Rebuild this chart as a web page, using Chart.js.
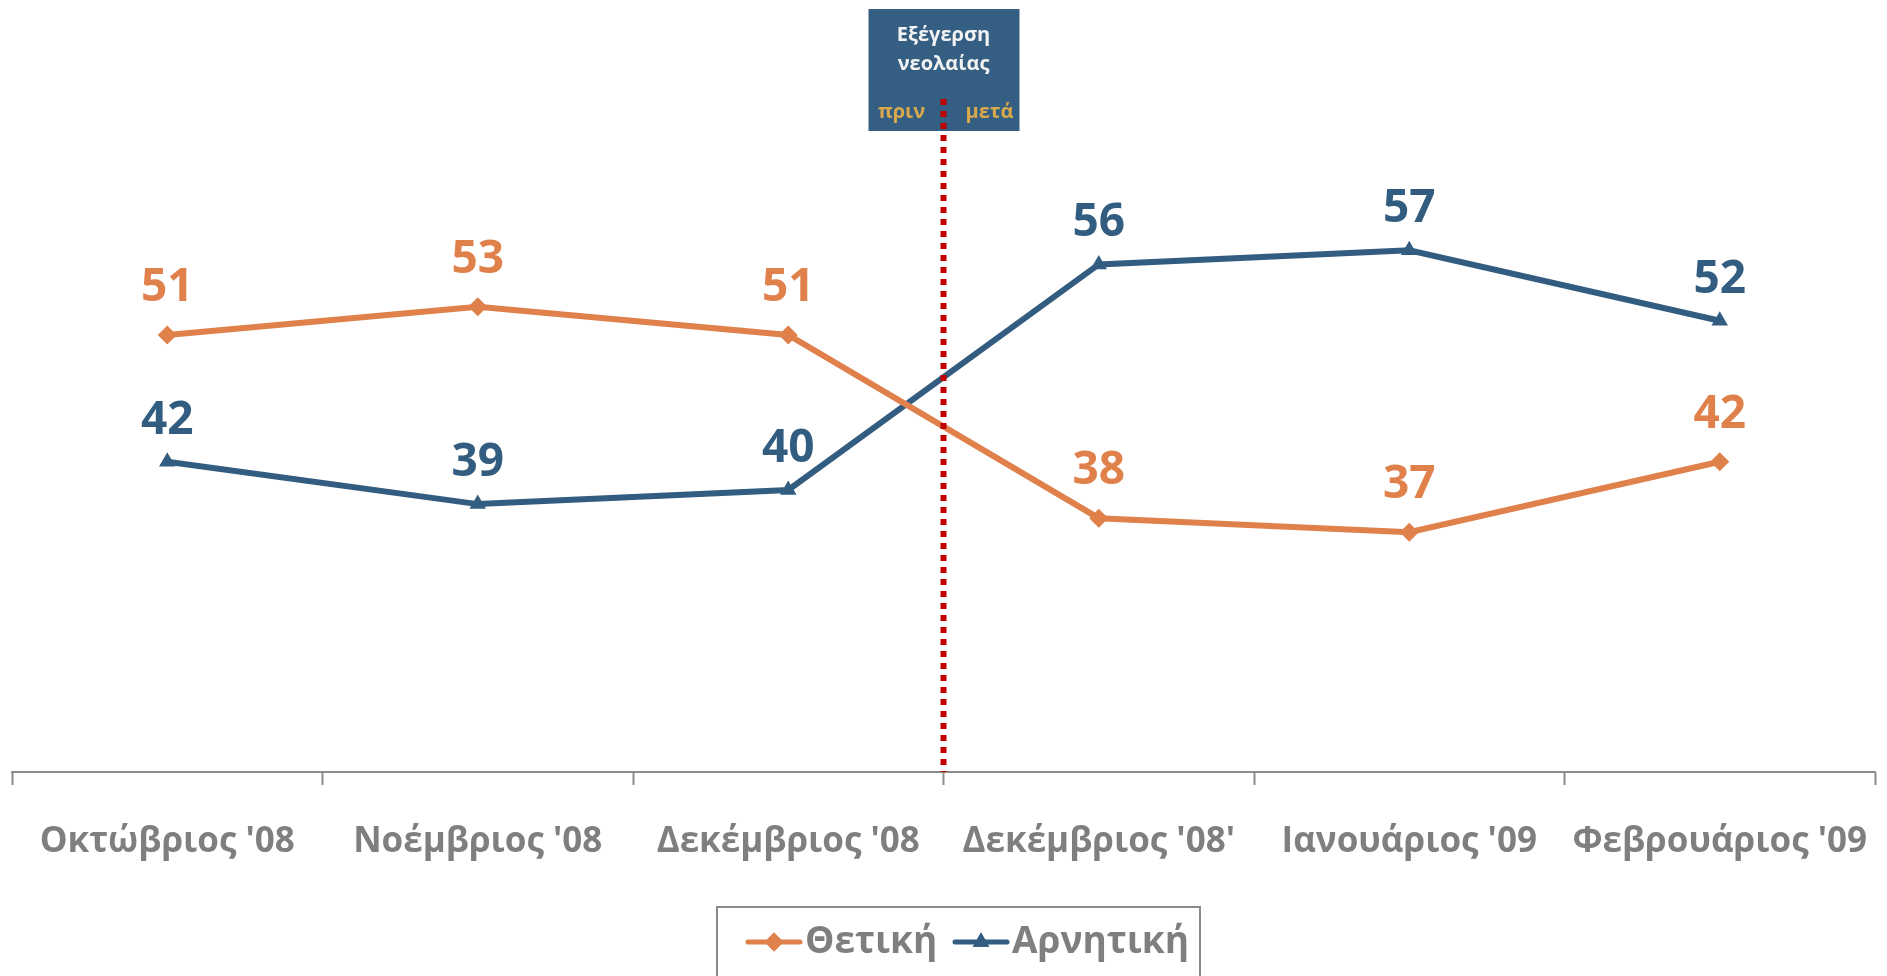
<!DOCTYPE html>
<html>
<head>
<meta charset="utf-8">
<script src="https://cdn.jsdelivr.net/npm/chart.js@4"></script>
<style>
  html, body { margin: 0; padding: 0; background: #fff; overflow: hidden; }
  #wrap { width: 1887px; height: 976px; position: relative; }
  canvas { display: block; }
</style>
</head>
<body>
<div id="wrap"><canvas id="chart"></canvas></div>
<script>
const months = ["Οκτώβριος '08", "Νοέμβριος '08", "Δεκέμβριος '08", "Δεκέμβριος '08'", "Ιανουάριος '09", "Φεβρουάριος '09"];
const positive = [51, 53, 51, 38, 37, 42];
const negative = [42, 39, 40, 56, 57, 52];
const seriesNames = ["Θετική", "Αρνητική"];
const eventTitle = ["Εξέγερση", "νεολαίας"];
const beforeAfter = ["πριν", "μετά"];

const ORANGE = "#E0804A";
const BLUE = "#335D80";
const GREY = "#7F7F7F";
const FONT = "'Open Sans', 'DejaVu Sans', sans-serif";

// value labels above each point
const valueLabels = {
  id: "valueLabels",
  afterDatasetsDraw(chart) {
    let ctx = chart.ctx;
    ctx.save();
    ctx.font = "bold 46px " + FONT;
    ctx.textAlign = "center";
    ctx.textBaseline = "alphabetic";
    chart.data.datasets.forEach((ds, i) => {
      let meta = chart.getDatasetMeta(i);
      ctx.fillStyle = ds.borderColor;
      meta.data.forEach((pt, j) => {
        ctx.fillText(String(ds.data[j]), pt.x, pt.y - ds.labelLift);
      });
    });
    ctx.restore();
  }
};

// event box + dotted divider between the two december points
const eventMarker = {
  id: "eventMarker",
  afterDraw(chart) {
    let ctx = chart.ctx;
    let xs = chart.scales.x;
    let area = chart.chartArea;
    let cx = (xs.getPixelForValue(2) + xs.getPixelForValue(3)) / 2;
    ctx.save();
    ctx.fillStyle = "#355F82";
    ctx.fillRect(cx - 75, 9, 151, 122);
    ctx.fillStyle = "#F2F2F2";
    ctx.font = "bold 20px " + FONT;
    ctx.textAlign = "center";
    ctx.textBaseline = "alphabetic";
    ctx.fillText(eventTitle[0], cx, 41);
    ctx.fillText(eventTitle[1], cx, 70);
    ctx.fillStyle = "#D9A94C";
    ctx.fillText(beforeAfter[0], cx - 42, 118);
    ctx.fillText(beforeAfter[1], cx + 46, 118);

    ctx.strokeStyle = "#C00000";
    ctx.lineWidth = 6;
    ctx.setLineDash([6, 6]);
    ctx.beginPath();
    ctx.moveTo(cx, 99);
    ctx.lineTo(cx, area.bottom);
    ctx.stroke();
    ctx.restore();
  }
};

// boxed legend under the axis
const boxLegend = {
  id: "boxLegend",
  afterDraw(chart) {
    let ctx = chart.ctx;
    ctx.save();
    ctx.strokeStyle = "#8A8A8A";
    ctx.lineWidth = 2;
    ctx.strokeRect(717, 907, 483, 100);

    let items = [
      { x: 748, color: ORANGE, style: "rectRot", text: seriesNames[0] },
      { x: 955, color: BLUE, style: "triangle", text: seriesNames[1] }
    ];
    items.forEach(it => {
      let y = 942;
      ctx.strokeStyle = it.color;
      ctx.lineWidth = 5;
      ctx.lineCap = "round";
      ctx.beginPath();
      ctx.moveTo(it.x, y);
      ctx.lineTo(it.x + 52, y);
      ctx.stroke();
      ctx.fillStyle = it.color;
      Chart.helpers.drawPoint(ctx, { pointStyle: it.style, radius: 9.5, rotation: 0, borderWidth: 0 }, it.x + 26, y);
      ctx.fill();
      ctx.fillStyle = GREY;
      ctx.font = "bold 37px " + FONT;
      ctx.textAlign = "left";
      ctx.textBaseline = "middle";
      ctx.fillText(it.text, it.x + 57, y);
    });
    ctx.restore();
  }
};

function makeDataset(label, data, color, style, lift) {
  return {
    label,
    data,
    borderColor: color,
    backgroundColor: color,
    borderWidth: 6,
    tension: 0,
    pointStyle: style,
    pointRadius: 9.5,
    pointHoverRadius: 9.5,
    pointBorderWidth: 0,
    labelLift: lift
  };
}

let ctx = document.getElementById("chart").getContext("2d");
new Chart(ctx, {
  type: "line",
  data: {
    labels: months,
    datasets: [
      makeDataset(seriesNames[0], positive, ORANGE, "rectRot", 34),
      makeDataset(seriesNames[1], negative, BLUE, "triangle", 28)
    ]
  },
  options: {
    responsive: true,
    maintainAspectRatio: false,
    animation: false,
    layout: { padding: { left: 12, right: 12, top: 67, bottom: 77 } },
    plugins: {
      legend: { display: false },
      tooltip: { enabled: false }
    },
    scales: {
      x: {
        offset: true,
        afterFit(scale) {
          // labels fit inside the offset halves, no extra side padding
          scale.paddingLeft = 0;
          scale.paddingRight = 0;
        },
        grid: {
          offset: true,
          drawOnChartArea: false,
          drawTicks: true,
          tickLength: 13,
          tickWidth: 2,
          tickColor: "#8C8C8C"
        },
        border: { display: true, color: "#8C8C8C", width: 2 },
        ticks: {
          color: GREY,
          font: { family: FONT, size: 35, weight: "bold" },
          padding: 36,
          maxRotation: 0,
          minRotation: 0,
          autoSkip: false
        }
      },
      y: {
        display: false,
        min: 20,
        max: 70
      }
    }
  },
  plugins: [valueLabels, eventMarker, boxLegend]
});
</script>
</body>
</html>
